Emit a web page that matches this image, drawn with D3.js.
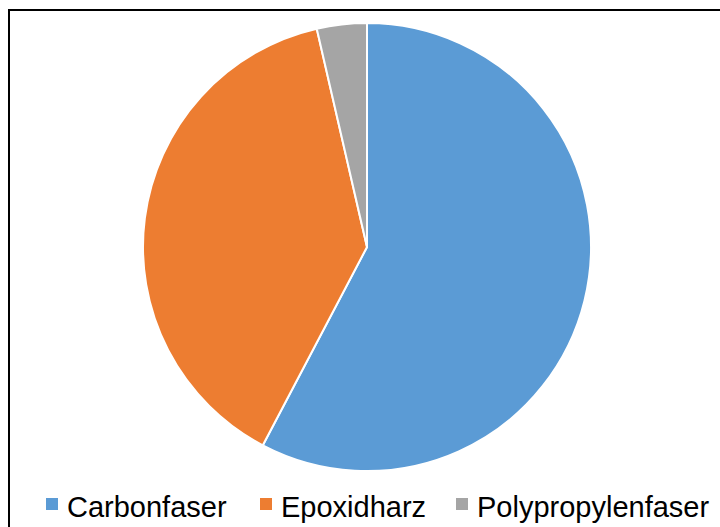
<!DOCTYPE html>
<html>
<head>
<meta charset="utf-8">
<script src="https://cdn.jsdelivr.net/npm/d3@7"></script>
<style>
  body { margin: 0; background: #fff; }
  svg { display: block; }
</style>
</head>
<body>
<script>
const categories = ["Carbonfaser", "Epoxidharz", "Polypropylenfaser"];
const values = [57.7, 38.7, 3.6];
const colors = ["#5b9bd5", "#ed7d31", "#a5a5a5"];

const width = 720, height = 527;
const svg = d3.select("body").append("svg")
    .attr("width", width)
    .attr("height", height);

// frame (right and bottom edges run off the picture)
svg.append("rect")
    .attr("x", 9).attr("y", 10)
    .attr("width", 740).attr("height", 560)
    .attr("fill", "none")
    .attr("stroke", "#000")
    .attr("stroke-width", 2);

const cx = 367, cy = 247, r = 224;
const pie = d3.pie().sort(null).value(d => d);
const arc = d3.arc().innerRadius(0).outerRadius(r);

svg.append("g")
    .attr("transform", `translate(${cx},${cy})`)
    .selectAll("path")
    .data(pie(values))
    .join("path")
    .attr("d", arc)
    .attr("fill", (d, i) => colors[i])
    .attr("stroke", "#fff")
    .attr("stroke-width", 2);

// legend
const legendX = [46, 260, 456];
const legend = svg.append("g")
    .selectAll("g")
    .data(categories)
    .join("g")
    .attr("transform", (d, i) => `translate(${legendX[i]},517)`);

legend.append("rect")
    .attr("x", 0).attr("y", -19)
    .attr("width", 12).attr("height", 12)
    .attr("fill", (d, i) => colors[i]);

legend.append("text")
    .attr("x", 21)
    .attr("y", 0)
    .attr("font-family", "Liberation Sans, Arial, sans-serif")
    .attr("font-size", 29)
    .attr("fill", "#000")
    .text(d => d);
</script>
</body>
</html>
